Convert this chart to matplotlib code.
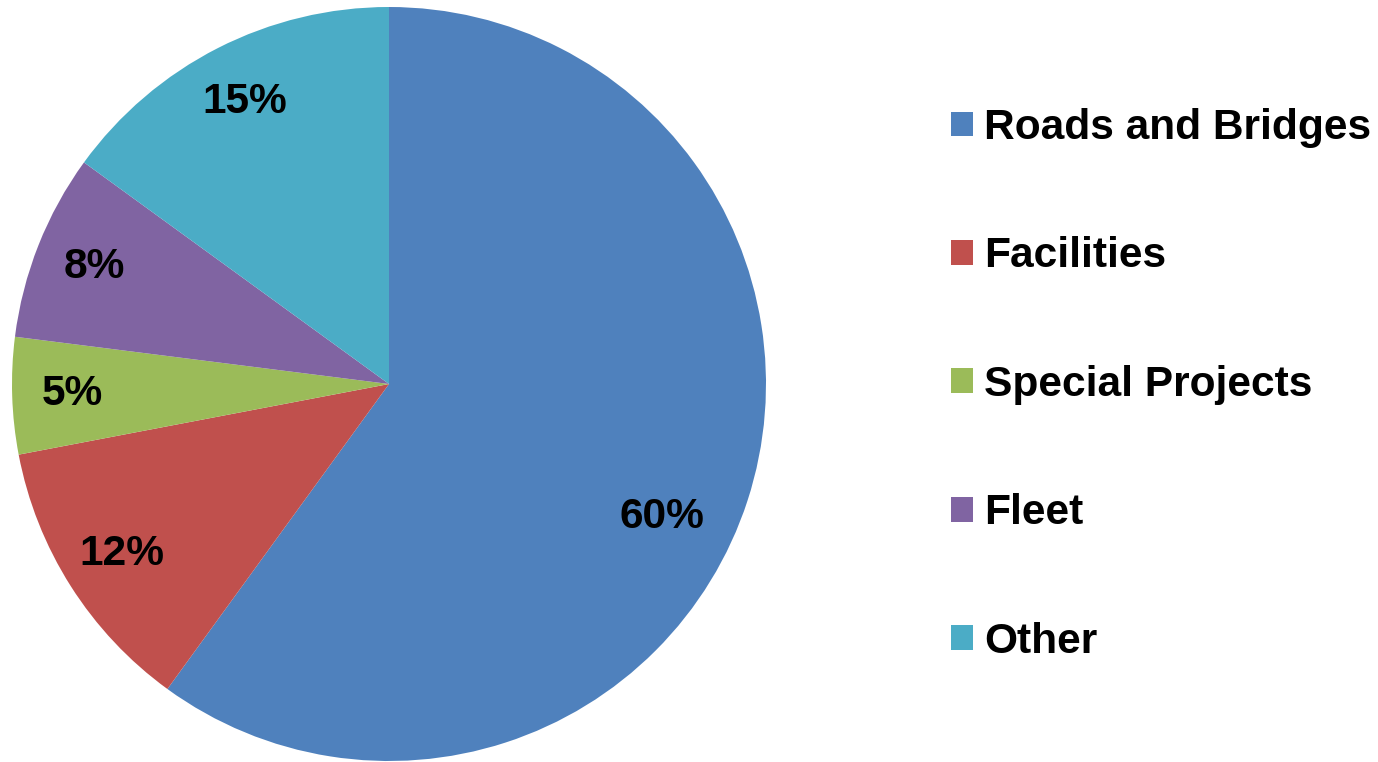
import matplotlib.pyplot as plt
import numpy as np
from matplotlib.patches import Patch

labels = ['Roads and Bridges', 'Facilities', 'Special Projects', 'Fleet', 'Other']
shares = [60, 12, 5, 8, 15]
colors = ['#4F81BD', '#C0504D', '#9BBB59', '#8064A2', '#4BACC6']

plt.rcParams['font.family'] = ['Liberation Sans', 'DejaVu Sans']

def plot():
    fig = plt.figure(figsize=(13.78, 7.62), dpi=100)
    # pie axes: centre ~ (389, 384) px, radius ~ 377 px
    ax = fig.add_axes([12 / 1378, 1 / 762, 754 / 1378, 754 / 762])
    wedges, texts, autotexts = ax.pie(
        shares, colors=colors, startangle=90, counterclock=False,
        autopct='%d%%', pctdistance=0.84,
        wedgeprops=dict(linewidth=0),
        textprops=dict(fontsize=30.6, fontweight='bold', color='black'))
    ax.set_xlim(-1, 1)
    ax.set_ylim(-1, 1)
    ax.set_aspect('equal')

    # Excel nudges the big label a bit lower than the wedge middle
    ang = np.deg2rad(-26)
    autotexts[0].set_position((0.805 * np.cos(ang), 0.805 * np.sin(ang)))

    handles = [Patch(facecolor=c, edgecolor='none') for c in colors]
    fig.legend(handles, labels, loc='center left', bbox_to_anchor=(951 / 1378, 0.495),
               frameon=False, borderpad=0, borderaxespad=0,
               handlelength=0.52, handleheight=0.52, handletextpad=0.26,
               labelspacing=2.08,
               prop=dict(family='Liberation Sans', size=30.6, weight='bold'))

    fig.savefig('out.png', dpi=100)

plot()
